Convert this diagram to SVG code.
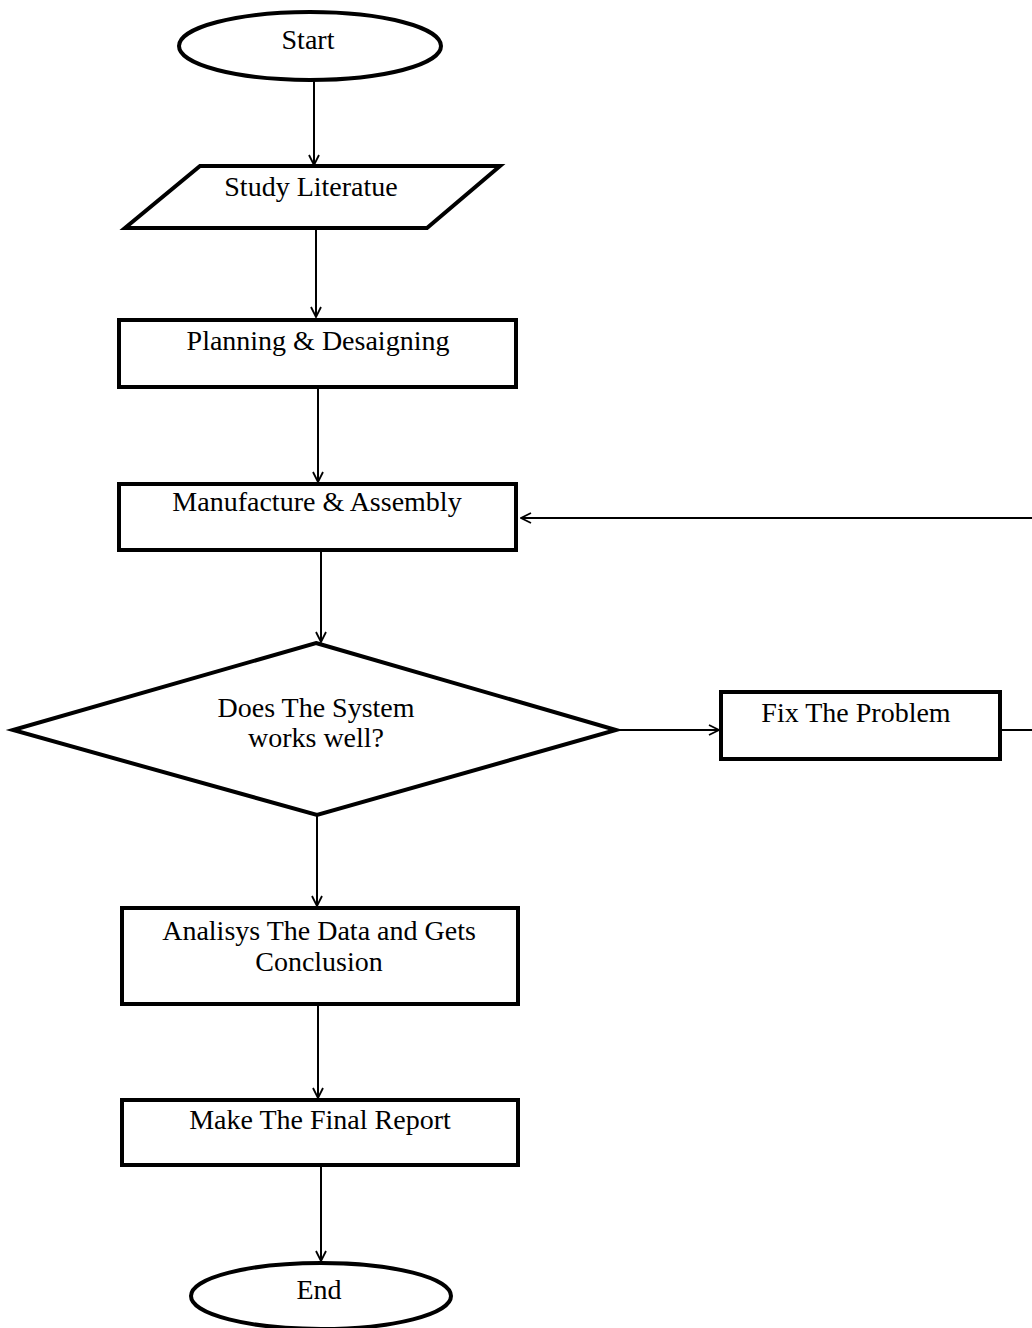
<svg xmlns="http://www.w3.org/2000/svg" width="1032" height="1328" viewBox="0 0 1032 1328">
<style>
.shape{fill:#fff;stroke:#000;stroke-width:4}
.conn{fill:none;stroke:#000;stroke-width:2}
.t{font-family:"Liberation Serif","Times New Roman",serif;font-size:28px;fill:#000;text-anchor:middle}
</style>
<defs>
<marker id="arr" viewBox="0 0 12 12" refX="11" refY="6" markerWidth="12" markerHeight="12" markerUnits="userSpaceOnUse" orient="auto">
<polyline points="1,1 11,6 1,11" fill="none" stroke="#000" stroke-width="1.8"/>
</marker>
</defs>
<rect width="1032" height="1328" fill="#fff"/>
<g id="connectors">
<line class="conn" x1="314" y1="81" x2="314" y2="165" stroke="#555" marker-end="url(#arr)"/>
<line class="conn" x1="316" y1="228" x2="316" y2="317" marker-end="url(#arr)"/>
<line class="conn" x1="318" y1="388" x2="318" y2="482" marker-end="url(#arr)"/>
<line class="conn" x1="321" y1="551" x2="321" y2="642" marker-end="url(#arr)"/>
<line class="conn" x1="617" y1="730" x2="719" y2="730" marker-end="url(#arr)"/>
<line class="conn" x1="1001" y1="730" x2="1032" y2="730"/>
<line class="conn" x1="1032" y1="518" x2="521" y2="518" marker-end="url(#arr)"/>
<line class="conn" x1="317" y1="815" x2="317" y2="906" marker-end="url(#arr)"/>
<line class="conn" x1="318" y1="1005" x2="318" y2="1098" marker-end="url(#arr)"/>
<line class="conn" x1="321" y1="1166" x2="321" y2="1261" marker-end="url(#arr)"/>
</g>
<g id="start">
<ellipse class="shape" cx="310" cy="46" rx="131" ry="34"/>
<text class="t" x="308" y="49">Start</text>
</g>
<g id="study">
<polygon class="shape" points="200,166 500,166 427,228 125,228"/>
<text class="t" x="311" y="196">Study Literatue</text>
</g>
<g id="planning">
<rect class="shape" x="119" y="320" width="397" height="67"/>
<text class="t" x="318" y="350">Planning &amp; Desaigning</text>
</g>
<g id="manufacture">
<rect class="shape" x="119" y="484" width="397" height="66"/>
<text class="t" x="317" y="511">Manufacture &amp; Assembly</text>
</g>
<g id="decision">
<polygon class="shape" points="316,643 616,730 317,815 13,730"/>
<text class="t" x="316" y="717">Does The System</text>
<text class="t" x="316" y="747">works well?</text>
</g>
<g id="fix">
<rect class="shape" x="721" y="692" width="279" height="67"/>
<text class="t" x="856" y="722">Fix The Problem</text>
</g>
<g id="analysis">
<rect class="shape" x="122" y="908" width="396" height="96"/>
<text class="t" x="319" y="940">Analisys The Data and Gets</text>
<text class="t" x="319" y="971">Conclusion</text>
</g>
<g id="report">
<rect class="shape" x="122" y="1100" width="396" height="65"/>
<text class="t" x="320" y="1129">Make The Final Report</text>
</g>
<g id="end">
<ellipse class="shape" cx="321" cy="1296" rx="130" ry="33"/>
<text class="t" x="319" y="1299">End</text>
</g>
</svg>
